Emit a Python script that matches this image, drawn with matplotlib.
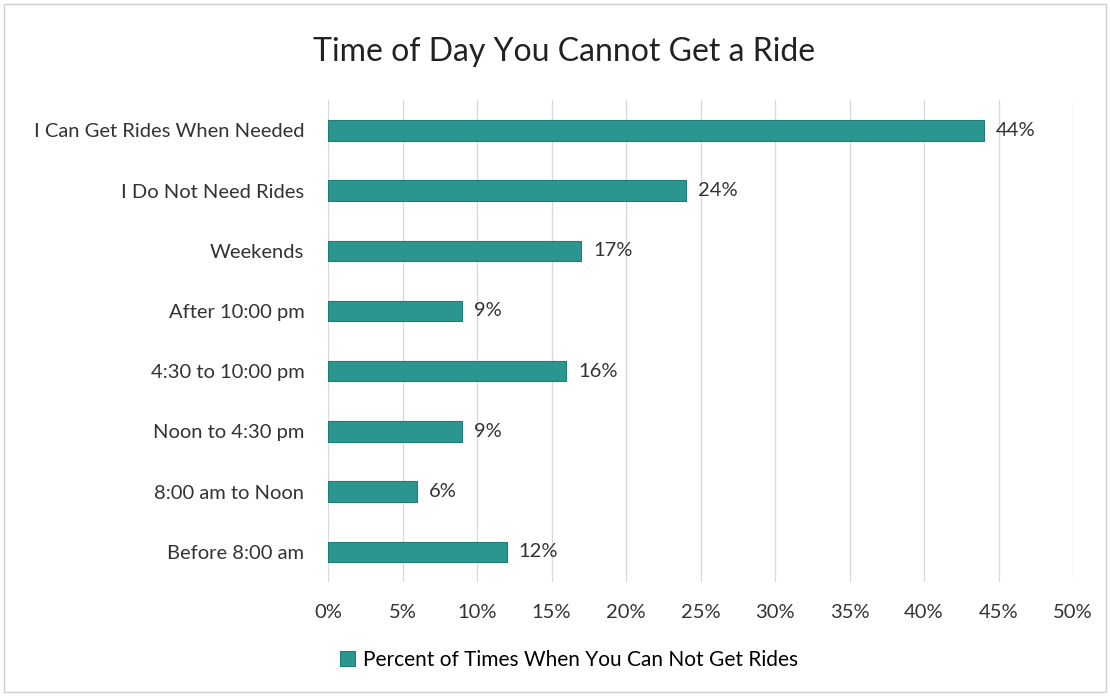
import matplotlib.pyplot as plt
from matplotlib.patches import Rectangle
from matplotlib.ticker import PercentFormatter

categories = ["I Can Get Rides When Needed", "I Do Not Need Rides", "Weekends",
              "After 10:00 pm", "4:30 to 10:00 pm", "Noon to 4:30 pm",
              "8:00 am to Noon", "Before 8:00 am"]
values = [44, 24, 17, 9, 16, 9, 6, 12]
series_name = "Percent of Times When You Can Not Get Rides"
x_ticks = [0, 5, 10, 15, 20, 25, 30, 35, 40, 45, 50]

plt.rcParams['font.family'] = ['Lato', 'DejaVu Sans']

fig = plt.figure(figsize=(11.1, 6.96), dpi=100)
ax = fig.add_axes([0.2955, 0.1638, 0.6712, 0.6922])

bar_color = '#2b9690'
ypos = list(range(len(categories)))[::-1]
bars = ax.barh(ypos, values, height=0.34, color=bar_color, edgecolor='#1f7d78',
               linewidth=0.8, label=series_name, zorder=3)

for y, v in zip(ypos, values):
    ax.text(v + 0.8, y, f"{v}%", va='center', ha='left', fontsize=14.5, color='#333333')

ax.set_xlim(0, 50)
ax.set_ylim(-0.5, 7.5)
ax.set_xticks(x_ticks)
ax.xaxis.set_major_formatter(PercentFormatter(decimals=0))
ax.set_yticks(ypos)
ax.set_yticklabels(categories)
ax.tick_params(axis='both', length=0, labelsize=14.5, colors='#333333')
ax.tick_params(axis='x', pad=16)
ax.tick_params(axis='y', pad=17)
ax.grid(axis='x', color='#d8d8de', linewidth=0.9, zorder=0)
for s in ax.spines.values():
    s.set_visible(False)

fig.suptitle("Time of Day You Cannot Get a Ride", fontsize=23, color='#222222',
             x=0.508, y=0.947)

fig.legend(handles=[bars], labels=[series_name], loc='center', bbox_to_anchor=(0.513, 0.052),
           frameon=False, fontsize=15, handlelength=0.7, handleheight=0.7, handletextpad=0.4)

fig.patches.append(Rectangle((0.004, 0.006), 0.992, 0.988, transform=fig.transFigure,
                             fill=False, edgecolor='#d0d0d0', linewidth=1))

fig.savefig("out.png", dpi=100)
